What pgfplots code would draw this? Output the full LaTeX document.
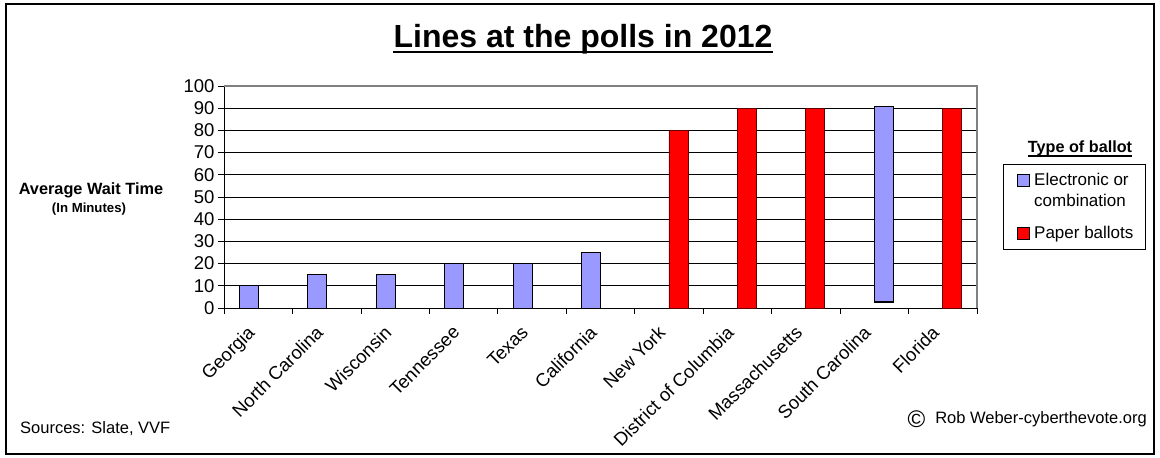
\documentclass[border=0pt]{standalone}
\usepackage{fontspec}
\setmainfont{Liberation Sans}
\usepackage{pgfplots}
\pgfplotsset{compat=1.18}
\definecolor{elec}{HTML}{9999FF}
\definecolor{paper}{HTML}{FF0000}
\begin{document}
\begin{tikzpicture}
\useasboundingbox (0pt,0pt) rectangle (1160pt,458pt);
\draw[line width=2pt] (6pt,4pt) rectangle (1154pt,454pt);
\begin{axis}[
  at={(224pt,150pt)}, anchor=south west,
  scale only axis, width=753pt, height=222pt,
  xmin=-0.5, xmax=10.5, ymin=0, ymax=100,
  axis x line*=bottom, axis y line*=left,
  axis line style={-, black, line width=0.8pt},
  ytick={0,10,...,100},
  ymajorgrids, grid style={black, line width=0.8pt},
  xtick={0,...,10},
  xticklabels={Georgia, North Carolina, Wisconsin, Tennessee, Texas, California, New York, District of Columbia, Massachusetts, South Carolina, Florida},
  major x tick style={draw=none},
  minor xtick={-0.5,0.5,...,10.5},
  tick align=outside,
  major tick length=6pt, minor tick length=6pt,
  minor x tick style={black, line width=0.8pt},
  ytick style={black, line width=0.8pt},
  /pgf/number format/assume math mode=true,
  yticklabel style={font=\fontsize{18.5}{20}\selectfont},
  xticklabel style={font=\fontsize{18.5}{20}\selectfont, xshift=-12pt, yshift=-9pt, rotate=45, anchor=north east, inner sep=1pt},
  clip=false,
  legend style={at={(1.0345,0.6486)}, anchor=north west, draw=black, line width=0.8pt,
    font=\fontsize{17}{21}\selectfont, cells={anchor=west, align=left},
    row sep=14pt, inner xsep=10pt, inner ysep=7pt},
]
\addplot[ybar, bar width=19pt, bar shift=-9.5pt, fill=elec, draw=black, line width=0.8pt,
  legend image code/.code={\path (-4pt,0pt) (14pt,0pt); \draw[fill=elec, draw=black, line width=0.6pt] (0pt,4.5pt) rectangle (12pt,16.5pt);}]
  coordinates {(0,10) (1,15) (2,15) (3,20) (4,20) (5,25)};
\addlegendentry{Electronic or\\combination}
\addplot[ybar, bar width=19pt, bar shift=9.5pt, fill=paper, draw=black!60!red, line width=0.8pt,
  legend image code/.code={\path (-4pt,0pt) (14pt,0pt); \draw[fill=paper, draw=black, line width=0.6pt] (0pt,-6pt) rectangle (12pt,6pt);}]
  coordinates {(6,80) (7,90) (8,90) (10,90)};
\addlegendentry{Paper ballots}
\addplot[ybar, bar width=19pt, bar shift=9.5pt, fill=elec, draw=black, line width=0.8pt, forget plot]
  coordinates {(9,91)};
\addplot[ybar, bar width=19pt, bar shift=9.5pt, fill=black, draw=none, forget plot]
  coordinates {(9,3)};
\addplot[ybar, bar width=21pt, bar shift=9.5pt, fill=white, draw=none, forget plot]
  coordinates {(9,2.2)};
\draw[gray, line width=1.2pt] (rel axis cs:0,1) -- (rel axis cs:1,1) -- (rel axis cs:1,0);
\end{axis}
\node[font=\bfseries\fontsize{32}{36}\selectfont, anchor=base, inner sep=0pt] (T) at (583pt,410pt) {Lines at the polls in 2012};
\draw[line width=2.5pt] ([yshift=-4pt]T.base west) -- ([yshift=-4pt]T.base east);
\node[font=\bfseries\fontsize{16.2}{18}\selectfont, anchor=base, inner sep=0pt] (L) at (1080pt,305pt) {Type of ballot};
\draw[line width=1.5pt] ([yshift=-3pt]L.base west) -- ([yshift=-3pt]L.base east);
\node[font=\bfseries\fontsize{16.3}{18}\selectfont, anchor=base, inner sep=0pt] at (91pt,263pt) {Average Wait Time};
\node[font=\bfseries\fontsize{13.2}{15}\selectfont, anchor=base, inner sep=0pt] at (89pt,245pt) {(In Minutes)};
\node[font=\fontsize{16.5}{18}\selectfont, anchor=base west, inner sep=0pt] at (20pt,24pt) {Sources: Slate, VVF};
\node[font=\fontsize{16.5}{18}\selectfont, anchor=base east, inner sep=0pt] at (1147pt,34pt) {\raisebox{-4pt}{\fontsize{24}{24}\selectfont ©}\hspace{10pt}Rob Weber-cyberthevote.org};
\end{tikzpicture}
\end{document}
